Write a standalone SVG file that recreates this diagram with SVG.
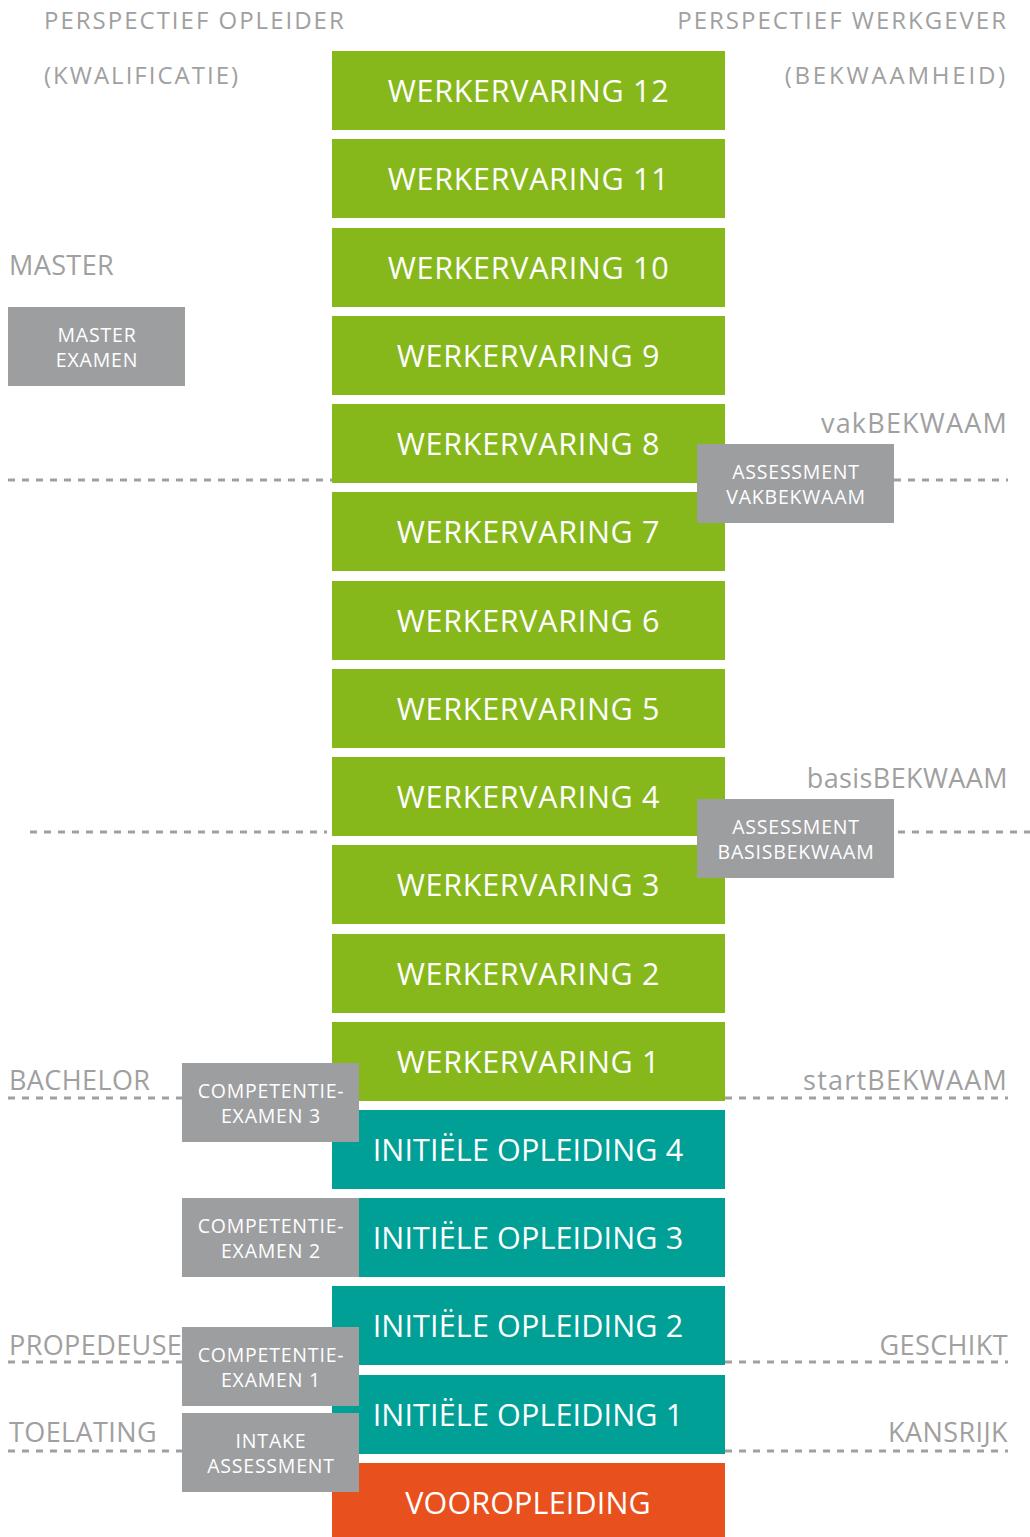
<svg xmlns="http://www.w3.org/2000/svg" width="1030" height="1537" viewBox="0 0 1030 1537">
<style>
.g{fill:#86b81b}.t{fill:#00a096}.o{fill:#e8511e}.gr{fill:#9d9ea0}
.bt{font-family:"Open Sans","Noto Sans",sans-serif;font-size:30.5px;letter-spacing:0.7px;fill:#fff;text-anchor:middle}
.bt.n{letter-spacing:0.15px}
.st{font-family:"Open Sans","Noto Sans",sans-serif;font-size:19.5px;letter-spacing:0.8px;fill:#fff;text-anchor:middle}
.lb{font-family:"Open Sans","Noto Sans",sans-serif;font-size:27px;letter-spacing:0.4px;fill:#a0a0a0}
.lb.w{letter-spacing:1.2px}
.hd{font-family:"Open Sans","Noto Sans",sans-serif;font-size:24px;letter-spacing:2px;fill:#a0a0a0}
.r{text-anchor:end}
.d{stroke:#a0a0a0;stroke-width:3;stroke-dasharray:7 7;fill:none}
</style>
<g id="headers">
<text class="hd" x="44" y="29">PERSPECTIEF OPLEIDER</text>
<text class="hd" x="44" y="84">(KWALIFICATIE)</text>
<text class="hd r" x="1008" y="29">PERSPECTIEF WERKGEVER</text>
<text class="hd r" x="1008" y="84" style="letter-spacing:2.8px">(BEKWAAMHEID)</text>
</g>
<g id="connectors">
<line class="d" x1="8" y1="480" x2="332" y2="480"/>
<line class="d" x1="894" y1="480" x2="1008" y2="480"/>
<line class="d" x1="30" y1="832" x2="327" y2="832"/>
<line class="d" x1="898" y1="832" x2="1030" y2="832"/>
<line class="d" x1="8" y1="1098" x2="182" y2="1098"/>
<line class="d" x1="725" y1="1098" x2="1008" y2="1098"/>
<line class="d" x1="8" y1="1362" x2="182" y2="1362"/>
<line class="d" x1="725" y1="1362" x2="1008" y2="1362"/>
<line class="d" x1="8" y1="1451" x2="182" y2="1451"/>
<line class="d" x1="725" y1="1451" x2="1008" y2="1451"/>
</g>
<g id="labels">
<text class="lb" x="9" y="275">MASTER</text>
<text class="lb r w" x="1008" y="433">vakBEKWAAM</text>
<text class="lb r" x="1008" y="788">basisBEKWAAM</text>
<text class="lb" x="9" y="1090">BACHELOR</text>
<text class="lb r w" x="1008" y="1090">startBEKWAAM</text>
<text class="lb" x="9" y="1355">PROPEDEUSE</text>
<text class="lb r" x="1008" y="1355">GESCHIKT</text>
<text class="lb" x="9" y="1442">TOELATING</text>
<text class="lb r" x="1008" y="1442">KANSRIJK</text>
</g>
<g id="wv12"><rect class="g" x="332" y="51" width="393" height="79"/><text class="bt" x="528.5" y="102">WERKERVARING 12</text></g>
<g id="wv11"><rect class="g" x="332" y="139" width="393" height="79"/><text class="bt" x="528.5" y="190">WERKERVARING 11</text></g>
<g id="wv10"><rect class="g" x="332" y="228" width="393" height="79"/><text class="bt" x="528.5" y="279">WERKERVARING 10</text></g>
<g id="wv9"><rect class="g" x="332" y="316" width="393" height="79"/><text class="bt" x="528.5" y="367">WERKERVARING 9</text></g>
<g id="wv8"><rect class="g" x="332" y="404" width="393" height="79"/><text class="bt" x="528.5" y="455">WERKERVARING 8</text></g>
<g id="wv7"><rect class="g" x="332" y="492" width="393" height="79"/><text class="bt" x="528.5" y="543">WERKERVARING 7</text></g>
<g id="wv6"><rect class="g" x="332" y="581" width="393" height="79"/><text class="bt" x="528.5" y="632">WERKERVARING 6</text></g>
<g id="wv5"><rect class="g" x="332" y="669" width="393" height="79"/><text class="bt" x="528.5" y="720">WERKERVARING 5</text></g>
<g id="wv4"><rect class="g" x="332" y="757" width="393" height="79"/><text class="bt" x="528.5" y="808">WERKERVARING 4</text></g>
<g id="wv3"><rect class="g" x="332" y="845" width="393" height="79"/><text class="bt" x="528.5" y="896">WERKERVARING 3</text></g>
<g id="wv2"><rect class="g" x="332" y="934" width="393" height="79"/><text class="bt" x="528.5" y="985">WERKERVARING 2</text></g>
<g id="wv1"><rect class="g" x="332" y="1022" width="393" height="79"/><text class="bt" x="528.5" y="1073">WERKERVARING 1</text></g>
<g id="io4"><rect class="t" x="332" y="1110" width="393" height="79"/><text class="bt n" x="528" y="1161">INITIËLE OPLEIDING 4</text></g>
<g id="io3"><rect class="t" x="332" y="1198" width="393" height="79"/><text class="bt n" x="528" y="1249">INITIËLE OPLEIDING 3</text></g>
<g id="io2"><rect class="t" x="332" y="1286" width="393" height="79"/><text class="bt n" x="528" y="1337">INITIËLE OPLEIDING 2</text></g>
<g id="io1"><rect class="t" x="332" y="1375" width="393" height="79"/><text class="bt n" x="528" y="1426">INITIËLE OPLEIDING 1</text></g>
<g id="voor"><rect class="o" x="332" y="1463" width="393" height="74"/><text class="bt n" x="528" y="1514">VOOROPLEIDING</text></g>
<g id="master-examen"><rect class="gr" x="8" y="307" width="177" height="79"/><text class="st" x="97" y="342">MASTER</text><text class="st" x="97" y="367">EXAMEN</text></g>
<g id="assess-vak"><rect class="gr" x="697" y="444" width="197" height="79"/><text class="st" x="796" y="479">ASSESSMENT</text><text class="st" x="796" y="504">VAKBEKWAAM</text></g>
<g id="assess-basis"><rect class="gr" x="697" y="799" width="197" height="79"/><text class="st" x="796" y="834">ASSESSMENT</text><text class="st" x="796" y="859">BASISBEKWAAM</text></g>
<g id="comp3"><rect class="gr" x="182" y="1063" width="177" height="79"/><text class="st" x="271" y="1098">COMPETENTIE-</text><text class="st" x="271" y="1123">EXAMEN 3</text></g>
<g id="comp2"><rect class="gr" x="182" y="1198" width="177" height="79"/><text class="st" x="271" y="1233">COMPETENTIE-</text><text class="st" x="271" y="1258">EXAMEN 2</text></g>
<g id="comp1"><rect class="gr" x="182" y="1327" width="177" height="79"/><text class="st" x="271" y="1362">COMPETENTIE-</text><text class="st" x="271" y="1387">EXAMEN 1</text></g>
<g id="intake"><rect class="gr" x="182" y="1413" width="177" height="79"/><text class="st" x="271" y="1448">INTAKE</text><text class="st" x="271" y="1473">ASSESSMENT</text></g>
</svg>
